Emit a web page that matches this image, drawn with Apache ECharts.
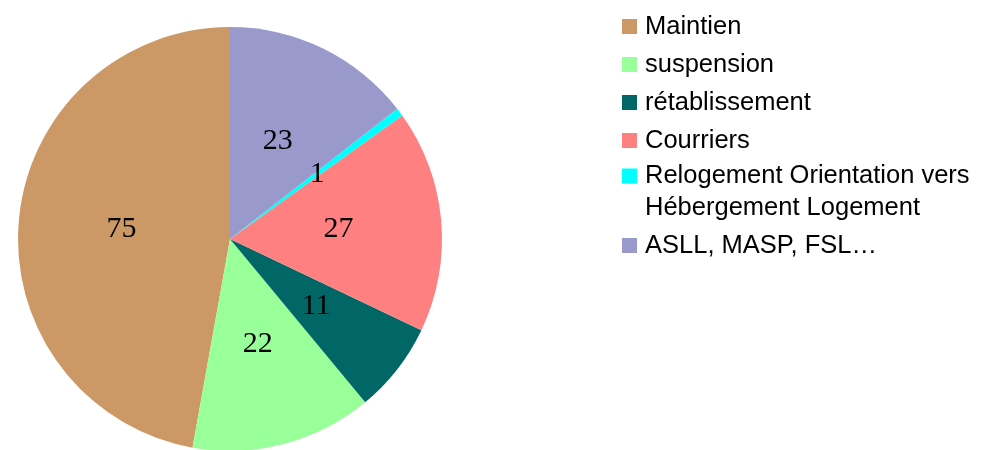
<!DOCTYPE html>
<html>
<head>
<meta charset="utf-8">
<script src="https://cdn.jsdelivr.net/npm/echarts@6/dist/echarts.min.js"></script>
<style>
  html, body { margin: 0; padding: 0; background: #fff; }
  #chart { width: 991px; height: 450px; }
</style>
</head>
<body>
<div id="chart"></div>
<script>
// données
const categories = ['Maintien', 'suspension', 'rétablissement', 'Courriers',
  'Relogement Orientation vers\nHébergement Logement', 'ASLL, MASP, FSL…']
const values = [75, 22, 11, 27, 1, 23]
const colors = ['#CC9966', '#99FF99', '#006666', '#FF8080', '#00FFFF', '#9999CC']

const chart = echarts.init(document.getElementById('chart'))

const legendText = {
  fontFamily: 'Liberation Sans, Arial, sans-serif',
  fontSize: 25.5,
  lineHeight: 27,
  color: '#000',
  padding: [0, 0, 0, 3]
}

chart.setOption({
  animation: false,
  color: colors,
  legend: [
    {
      orient: 'vertical',
      left: 622,
      top: 13,
      padding: 0,
      itemWidth: 15,
      itemHeight: 15,
      itemGap: 11,
      icon: 'rect',
      textStyle: legendText,
      data: categories.slice(0, 4)
    },
    {
      // élément sur deux lignes : carré aligné sur la première ligne
      orient: 'vertical',
      left: 622,
      top: 160,
      padding: 0,
      itemWidth: 15,
      itemHeight: 47,
      icon: 'path://M0,0L15,0L15,15L0,15Z M0,47L0.001,47L0,47Z',
      textStyle: Object.assign({}, legendText, { lineHeight: 32 }),
      data: categories.slice(4, 5)
    },
    {
      orient: 'vertical',
      left: 622,
      top: 232,
      padding: 0,
      itemWidth: 15,
      itemHeight: 15,
      icon: 'rect',
      textStyle: legendText,
      data: categories.slice(5)
    }
  ],
  series: [{
    type: 'pie',
    center: [230, 239],
    radius: 212,
    startAngle: 90,
    clockwise: false,
    avoidLabelOverlap: false,
    itemStyle: { borderWidth: 0 },
    label: {
      show: true,
      position: 'inside',
      formatter: '{c}',
      fontFamily: 'Liberation Serif, Times New Roman, serif',
      fontSize: 30,
      color: '#000',
      textBorderWidth: 0
    },
    labelLine: { show: false },
    emphasis: { disabled: true },
    data: categories.map((name, i) => ({ name: name, value: values[i] }))
  }]
})
</script>
</body>
</html>
